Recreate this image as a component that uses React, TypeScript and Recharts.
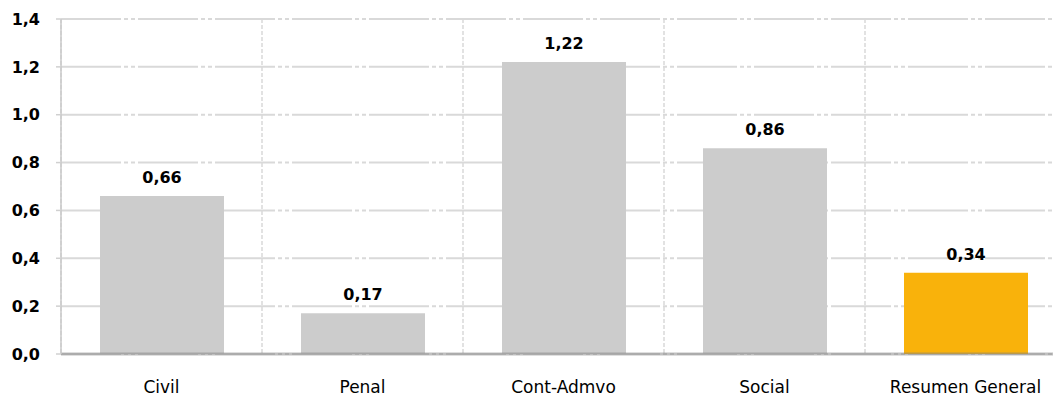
import React from 'react';
import { BarChart, Bar, XAxis, YAxis, CartesianGrid, Cell, LabelList, ReferenceLine } from 'recharts';

const categories = ['Civil', 'Penal', 'Cont-Admvo', 'Social', 'Resumen General'];
const values = [0.66, 0.17, 1.22, 0.86, 0.34];
const colors = ['#cccccc', '#cccccc', '#cccccc', '#cccccc', '#f9b20b'];
const yTicks = [0, 0.2, 0.4, 0.6, 0.8, 1.0, 1.2, 1.4];
const boundaryTicks = [0, 1, 2, 3, 4, 5];

const data = categories.map((c, i) => ({ name: c, value: values[i], idx: i + 0.5 }));

const fmt = (v: number) => v.toFixed(2).replace('.', ',');
const fmtY = (v: number) => v.toFixed(1).replace('.', ',');

const XTick = (props: any) => {
  const { x, y, payload } = props;
  return (
    <text x={x} y={y + 39} textAnchor="middle" fontFamily="DejaVu Sans" fontSize={17} fill="#000">
      {payload.value}
    </text>
  );
};

const EmptyTick = () => <g />;

const vGen = ({ offset }: any) =>
  boundaryTicks.map((t) => offset.left + (offset.width * t) / categories.length);

export default function App() {
  return (
    <div style={{ position: 'absolute', left: 0, top: 0, width: 1053, height: 396, overflow: 'hidden', background: '#fff' }}>
      <BarChart width={1070} height={396} data={data} margin={{ top: 19, right: 4, left: 0, bottom: 0 }}>
        <CartesianGrid
          stroke="#d9d9d9"
          horizontal={false}
          strokeDasharray="4 2"
          strokeWidth={1.5}
          verticalCoordinatesGenerator={vGen}
        />
        <CartesianGrid stroke="#d9d9d9" vertical={false} strokeDasharray="60 3 4 3 4 3" strokeWidth={2} />
        <XAxis
          xAxisId="b"
          type="number"
          dataKey="idx"
          domain={[0, 5]}
          ticks={boundaryTicks}
          height={0}
          tick={<EmptyTick />}
          tickSize={6}
          axisLine={false}
          tickLine={{ stroke: '#bfbfbf', strokeWidth: 2 }}
        />
        <XAxis
          dataKey="name"
          height={42}
          tickSize={0}
          tickMargin={0}
          axisLine={false}
          tickLine={false}
          tick={<XTick />}
          interval={0}
        />
        <YAxis
          width={61}
          domain={[0, 1.4]}
          ticks={yTicks}
          tickFormatter={fmtY}
          tickSize={5}
          tickMargin={16}
          axisLine={{ stroke: '#c8c8c8', strokeWidth: 1.5 }}
          tickLine={{ stroke: '#d0d0d0', strokeWidth: 1.5 }}
          tick={{ fontFamily: 'DejaVu Sans', fontSize: 16, fontWeight: 'bold', fill: '#000' }}
        />
        <Bar dataKey="value" barSize={124} isAnimationActive={false}>
          {data.map((d, i) => (
            <Cell key={d.name} fill={colors[i]} />
          ))}
          <LabelList
            dataKey="value"
            position="top"
            offset={13}
            formatter={(v: any) => fmt(Number(v))}
            style={{ fontFamily: 'DejaVu Sans', fontSize: 16, fontWeight: 'bold', fill: '#000' }}
          />
        </Bar>
        <ReferenceLine y={0} stroke="#808080" strokeOpacity={0.5} strokeWidth={3} />
      </BarChart>
    </div>
  );
}
